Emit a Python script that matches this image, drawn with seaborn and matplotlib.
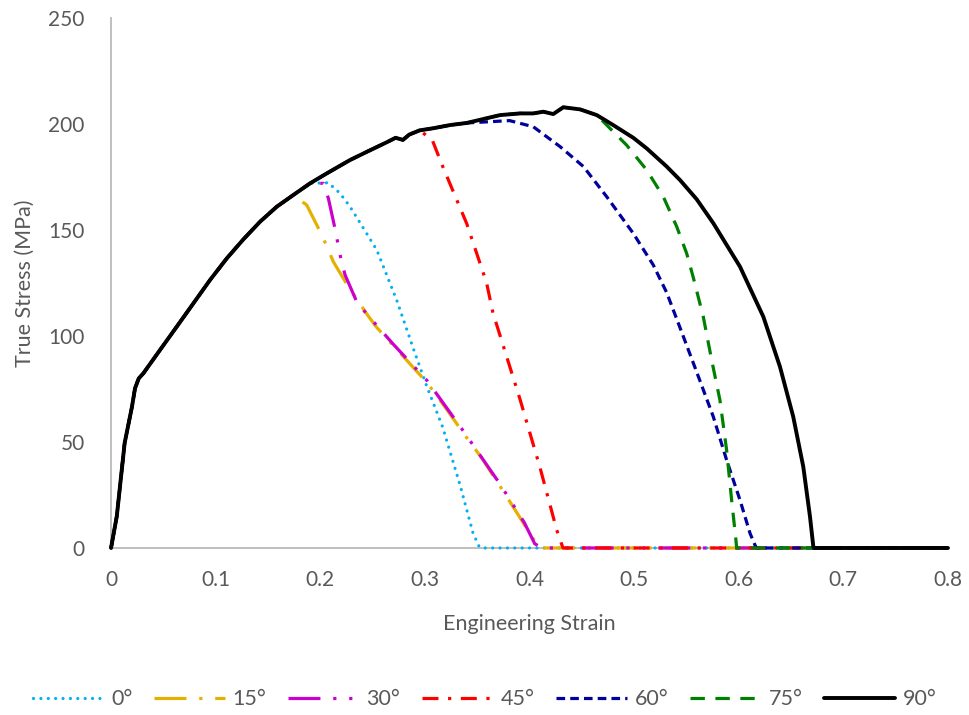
import numpy as np
import pandas as pd
import matplotlib
matplotlib.use("Agg")
import matplotlib.pyplot as plt
import seaborn as sns

# Shared hardening response (true stress vs engineering strain)
hard_strain = [0.0, 0.0055, 0.013, 0.02, 0.0229, 0.0265, 0.0309, 0.0468, 0.0628, 0.0787,
               0.0946, 0.1106, 0.1265, 0.1424, 0.1584, 0.1742, 0.1902, 0.2062, 0.2284, 0.245,
               0.264, 0.272, 0.279, 0.285, 0.295, 0.308, 0.324, 0.34, 0.3718, 0.3909,
               0.4036, 0.4132, 0.4227, 0.4323, 0.4484, 0.4643]
hard_stress = [0.0, 15.0, 49.5, 66.6, 75.3, 80.0, 82.4, 93.4, 104.4, 115.4,
               126.4, 136.6, 145.6, 153.9, 161.0, 166.5, 172.0, 176.7, 183.0, 187.0,
               191.5, 193.5, 192.5, 195.0, 197.0, 198.0, 199.5, 200.5, 204.2, 205.0,
               205.0, 205.8, 204.7, 207.9, 206.9, 204.2]

# Softening branches for each loading orientation
strain_0 = [0.2077, 0.2189, 0.2284, 0.2364, 0.254, 0.273, 0.289, 0.302, 0.317, 0.334, 0.346, 0.352, 0.355, 0.8]
stress_0 = [172.3, 167.3, 161.0, 154.7, 140.6, 117.0, 94.0, 76.0, 57.0, 29.0, 7.0, 0.5, 0.0, 0.0]

strain_15 = [0.187, 0.2004, 0.2067, 0.2125, 0.2268, 0.245, 0.254, 0.28, 0.302, 0.32, 0.337, 0.355, 0.372, 0.39, 0.404, 0.41, 0.8]
stress_15 = [161.8, 148.7, 141.8, 135.0, 123.3, 110.0, 104.0, 90.0, 78.0, 66.0, 54.0, 42.0, 29.0, 15.0, 4.0, 0.0, 0.0]

strain_30 = [0.203, 0.2077, 0.214, 0.2198, 0.2237, 0.2348, 0.245, 0.27, 0.302, 0.337, 0.372, 0.395, 0.405, 0.412, 0.8]
stress_30 = [172.0, 165.0, 150.8, 136.2, 128.8, 116.2, 110.0, 96.0, 79.0, 55.0, 30.0, 12.0, 2.0, 0.0, 0.0]

strain_45 = [0.307, 0.317, 0.34, 0.359, 0.365, 0.391, 0.41, 0.426, 0.432, 0.8]
stress_45 = [192.5, 180.0, 153.0, 125.0, 111.0, 70.0, 38.0, 8.5, 0.0, 0.0]

strain_60 = [0.381, 0.4036, 0.4293, 0.4516, 0.4738, 0.4992, 0.5183, 0.5311, 0.5438, 0.5598,
             0.5757, 0.5884, 0.6012, 0.6108, 0.6155, 0.617, 0.8]
stress_60 = [201.6, 198.7, 189.3, 179.9, 165.7, 148.4, 133.5, 120.5, 104.0, 83.0,
             61.9, 41.5, 22.6, 6.9, 1.4, 0.0, 0.0]

strain_75 = [0.4738, 0.4929, 0.512, 0.5279, 0.5407, 0.5502, 0.5566, 0.5661, 0.5741, 0.582,
             0.5884, 0.5932, 0.5973, 0.598, 0.8]
stress_75 = [199.5, 190.0, 178.3, 165.7, 151.6, 139.0, 127.5, 109.1, 88.7, 69.8,
             46.2, 22.6, 3.8, 0.0, 0.0]

strain_90 = [0.480, 0.4992, 0.512, 0.531, 0.5438, 0.5598, 0.5757, 0.6012, 0.6235, 0.6394,
             0.6521, 0.6617, 0.6681, 0.6713, 0.672, 0.8]
stress_90 = [199.5, 193.5, 188.5, 180.0, 173.6, 164.5, 153.2, 132.7, 109.1, 85.5,
             61.9, 38.3, 14.8, 0.6, 0.0, 0.0]

labels = ["0°", "15°", "30°", "45°", "60°", "75°", "90°"]
branch_strain = [strain_0, strain_15, strain_30, strain_45, strain_60, strain_75, strain_90]
branch_stress = [stress_0, stress_15, stress_30, stress_45, stress_60, stress_75, stress_90]
# strain at which each curve leaves the shared hardening response
split_at = [0.2, 0.18, 0.2, 0.3, 0.36, 0.47, 0.47]

colors = ["#00B0F0", "#E6B000", "#CC00CC", "#FF0000", "#00009C", "#008000", "#000000"]
dash_styles = [
    (0, (0.01, 2.3)),                 # round dot
    (0, (10, 4, 1, 4)),               # long dash dot
    (0, (10, 4, 1, 4, 1, 4)),         # long dash dot dot
    (0, (5, 3, 1, 3)),                # dash dot
    (0, (2.7, 1.6)),                  # short dash
    (0, (4.5, 3.3)),                  # dash
    "solid",
]
widths = [2.3, 2.3, 2.3, 2.3, 2.3, 2.3, 2.8]

rows = []
for lab, bx, by, s in zip(labels, branch_strain, branch_stress, split_at):
    for x, y in zip(hard_strain, hard_stress):
        if x < s:
            rows.append((lab, x, y))
    for x, y in zip(bx, by):
        rows.append((lab, x, y))
df = pd.DataFrame(rows, columns=["orientation", "strain", "stress"])

sns.set_style("white")
plt.rcParams["font.family"] = ["Lato", "DejaVu Sans"]

fig = plt.figure(figsize=(9.69, 7.15), dpi=100)
ax = fig.add_axes([0.1146, 0.2336, 0.8637, 0.7412])

for lab, c, ls, lw in zip(labels, colors, dash_styles, widths):
    sub = df[df["orientation"] == lab]
    sns.lineplot(data=sub, x="strain", y="stress", ax=ax, color=c,
                 linewidth=lw, estimator=None, sort=False, label=lab)
    line = ax.lines[-1]
    line.set_linestyle(ls)
    line.set_clip_on(False)
    line.set_solid_joinstyle("round")
    if lab == "0°":
        line.set_dash_capstyle("round")

if ax.get_legend() is not None:
    ax.get_legend().remove()

text_color = "#595959"
axis_color = "#BFBFBF"

ax.set_xlim(0, 0.8)
ax.set_ylim(0, 250)
ax.set_xticks(np.arange(0, 0.81, 0.1))
ax.set_xticklabels(["0", "0.1", "0.2", "0.3", "0.4", "0.5", "0.6", "0.7", "0.8"])
ax.set_yticks(np.arange(0, 251, 50))
ax.set_yticklabels(["0", "50", "100", "150", "200", "250"])

for side in ["top", "right"]:
    ax.spines[side].set_visible(False)
for side in ["left", "bottom"]:
    ax.spines[side].set_color(axis_color)
    ax.spines[side].set_linewidth(1.4)
    ax.spines[side].set_zorder(0.5)

ax.tick_params(axis="both", direction="inout", length=10, width=1.4,
               color=axis_color, labelcolor=text_color, labelsize=15)
ax.tick_params(axis="x", pad=11)
ax.tick_params(axis="y", pad=14)

ax.set_xlabel("Engineering Strain", fontsize=15.5, color=text_color, labelpad=17)
ax.set_ylabel("True Stress (MPa)", fontsize=15.5, color=text_color, labelpad=10)

handles = ax.lines[:7]
fig.legend(handles, labels, loc="center", bbox_to_anchor=(0.5, 0.022), ncol=7,
           frameon=False, fontsize=15.5, labelcolor=text_color,
           handlelength=3.3, handletextpad=0.35, columnspacing=1.0)

fig.savefig("out.png", dpi=100)
